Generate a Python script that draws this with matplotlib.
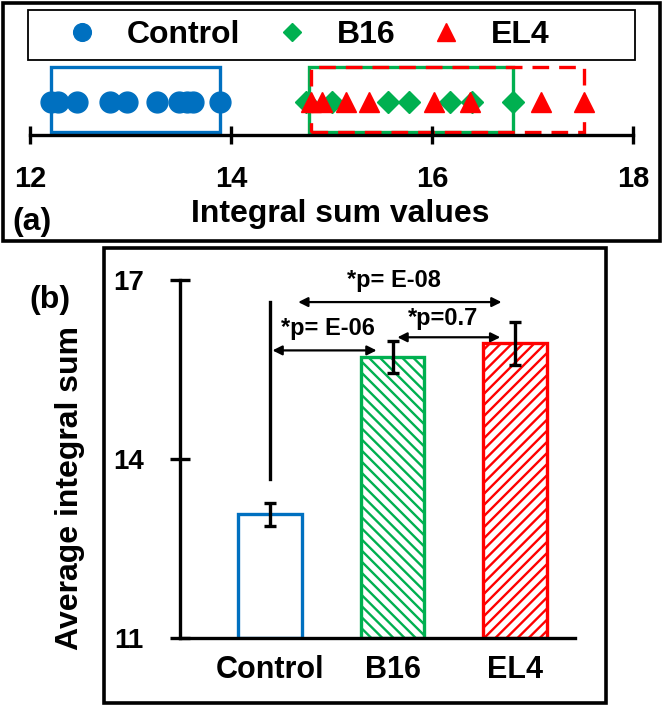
import numpy as np
import matplotlib
matplotlib.use("Agg")
import matplotlib.pyplot as plt
from matplotlib.patches import Rectangle

plt.rcParams['font.family'] = ['Liberation Sans', 'DejaVu Sans']
plt.rcParams['font.weight'] = 'bold'
plt.rcParams['hatch.linewidth'] = 1.7

# panel (a): individual integral sums
control_vals = [12.21, 12.28, 12.47, 12.80, 12.97, 13.26, 13.48, 13.56, 13.62, 13.89]
b16_vals = [14.75, 15.00, 15.56, 15.77, 16.18, 16.40, 16.81]
el4_vals = [14.80, 14.91, 15.14, 15.37, 16.02, 16.38, 17.08, 17.51]

# panel (b): averages
groups = ["Control", "B16", "EL4"]
means = [13.07, 15.71, 15.94]
errs = [0.19, 0.27, 0.36]

BLUE = "#0070C0"
GREEN = "#00B050"
RED = "#FF0000"

W, H = 666, 707


def fx(px):
    return px / W


def fy(py):
    return 1 - py / H


fig = plt.figure(figsize=(W / 100, H / 100), dpi=100)

# outer frames of both panels + legend frame
fig.patches.append(Rectangle((fx(3), fy(241)), fx(657), 238 / H, transform=fig.transFigure,
                             fill=False, ec="black", lw=2.6))
fig.patches.append(Rectangle((fx(104), fy(703)), fx(502), 455 / H, transform=fig.transFigure,
                             fill=False, ec="black", lw=2.6))
fig.patches.append(Rectangle((fx(28), fy(60)), fx(607), 50 / H, transform=fig.transFigure,
                             fill=False, ec="black", lw=1.3))

# ---------- (a) ----------
ax_a = fig.add_axes([fx(30), fy(135), fx(603), 73 / H])
ax_a.set_xlim(12, 18)
ax_a.set_ylim(0, 1)
for s in ["top", "left", "right"]:
    ax_a.spines[s].set_visible(False)
ax_a.spines["bottom"].set_linewidth(2.4)
ax_a.set_yticks([])
ax_a.set_xticks([12, 14, 16, 18])
ax_a.tick_params(axis="x", direction="inout", length=13, width=2.4, pad=15, labelsize=21)

ya = 0.45
ax_a.plot(control_vals, [ya] * len(control_vals), "o", color=BLUE, ms=15, ls="none", label="Control")
ax_a.plot(b16_vals, [ya] * len(b16_vals), "D", color=GREEN, ms=11, ls="none", label="B16")
ax_a.plot(el4_vals, [ya] * len(el4_vals), "^", color=RED, ms=15, ls="none", label="EL4")

box_y0, box_h = 0.04, 0.89
ax_a.add_patch(Rectangle((min(control_vals), box_y0), max(control_vals) - min(control_vals), box_h,
                         fill=False, ec=BLUE, lw=2.4, zorder=1))
ax_a.add_patch(Rectangle((min(b16_vals) + 0.03, box_y0), max(b16_vals) - min(b16_vals) - 0.03, box_h,
                         fill=False, ec=GREEN, lw=2.4, zorder=1))
ax_a.add_patch(Rectangle((min(el4_vals), box_y0), max(el4_vals) - min(el4_vals), box_h,
                         fill=False, ec=RED, lw=2.4, ls=(0, (5, 3)), zorder=1.5))

ax_a.set_xlabel("Integral sum values", fontsize=23, fontweight="bold")
ax_a.xaxis.set_label_coords(0.515, -0.88)

ax_a.legend(loc="center", bbox_to_anchor=(fx(308), fy(35)), bbox_transform=fig.transFigure,
            ncol=3, fontsize=23, frameon=False, handlelength=1.0, handletextpad=0.9,
            columnspacing=1.1, borderaxespad=0, borderpad=0, markerscale=0.85)

fig.text(fx(32), fy(222), "(a)", fontsize=23, ha="center", va="center")

# ---------- (b) ----------
ax_b = fig.add_axes([fx(180), fy(638), fx(395), 358 / H])
x = np.arange(len(groups))
ax_b.set_xlim(-0.735, 2.49)
ax_b.set_ylim(11, 17)

ax_b.bar(x[0], means[0] - 11, bottom=11, width=0.52, facecolor="white", edgecolor=BLUE, lw=2.4, zorder=2)
ax_b.bar(x[1], means[1] - 11, bottom=11, width=0.52, facecolor="white", edgecolor=GREEN,
         lw=2.4, hatch="\\\\\\", zorder=2)
ax_b.bar(x[2], means[2] - 11, bottom=11, width=0.52, facecolor="white", edgecolor=RED,
         lw=2.4, hatch="///", zorder=2)
ax_b.errorbar(x, means, yerr=errs, fmt="none", ecolor="black", elinewidth=2.4,
              capsize=4, capthick=2.4, zorder=3)

for s in ["top", "right"]:
    ax_b.spines[s].set_visible(False)
ax_b.spines["left"].set_linewidth(2.4)
ax_b.spines["bottom"].set_linewidth(2.4)
ax_b.set_yticks([11, 14, 17])
ax_b.tick_params(axis="y", direction="inout", length=14, width=2.4, pad=19, labelsize=20)
ax_b.set_xticks(x)
ax_b.set_xticklabels(groups)
ax_b.tick_params(axis="x", length=0, pad=12, labelsize=22)

# comparison bracket line and arrows
ax_b.plot([0, 0], [13.66, 16.63], color="black", lw=2.4, zorder=3)
arrow_kw = dict(arrowstyle="<|-|>", color="black", lw=1.6, mutation_scale=14,
                shrinkA=0, shrinkB=0)
ax_b.annotate("", xy=(0.23, 16.63), xytext=(1.89, 16.63), arrowprops=arrow_kw)
ax_b.annotate("", xy=(0.02, 15.82), xytext=(0.87, 15.82), arrowprops=arrow_kw)
ax_b.annotate("", xy=(1.04, 16.04), xytext=(1.88, 16.04), arrowprops=arrow_kw)
ax_b.text(1.01, 17.0, "*p= E-08", fontsize=17, ha="center", va="center", clip_on=False)
ax_b.text(0.47, 16.18, "*p= E-06", fontsize=17, ha="center", va="center", clip_on=False)
ax_b.text(1.41, 16.35, "*p=0.7", fontsize=17, ha="center", va="center", clip_on=False)

ax_b.set_ylabel("Average integral sum", fontsize=23, fontweight="bold")
ax_b.yaxis.set_label_coords(-0.24, 0.42)

fig.text(fx(50), fy(300), "(b)", fontsize=23, ha="center", va="center")

fig.savefig("out.png", dpi=100)
